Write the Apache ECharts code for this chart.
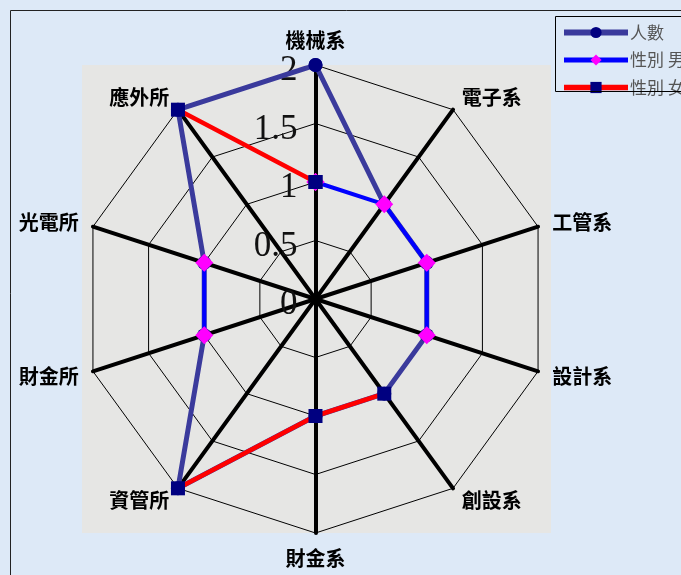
<!DOCTYPE html>
<html><head><meta charset="utf-8">
<script src="https://cdn.jsdelivr.net/npm/echarts@6/dist/echarts.min.js"></script>
<style>html,body{margin:0;padding:0;background:#dde9f7;overflow:hidden}#c{width:681px;height:575px}</style>
</head><body><div id="c"></div>
<script>
// ---- data ----
const categories = ['機械系','電子系','工管系','設計系','創設系','財金系','資管所','財金所','光電所','應外所'];
const headcount = [2,1,1,1,1,1,2,1,1,2];          // 人數
const male      = [1,1,1,1,null,null,null,1,1,null]; // 性別 男
const female    = [1,null,null,null,1,1,2,null,null,2]; // 性別 女
const seriesNames = ['人數','性別 男','性別 女'];
const radiusTicks = [0,0.5,1,1.5,2];

const rMax = radiusTicks[radiusTicks.length-1];
const rStep = radiusTicks[1]-radiusTicks[0];
const CENTER = [315.5, 299];
const RADIUS = 234;

// radar (grid only) lays indicators counter-clockwise, so list them reversed
const indicatorOrder = [categories[0]].concat(categories.slice(1).reverse());

function toPolar(vals){
  const pts = vals.map((v,i)=>[v==null?'-':v, i]);
  pts.push([vals[0]==null?'-':vals[0], vals.length]); // close the loop
  return pts;
}

const chart = echarts.init(document.getElementById('c'), null, {renderer:'canvas'});
const labelFont = "'Noto Sans CJK TC','Noto Sans CJK SC',sans-serif";

const styles = [
  {line:'#3a3a9c', lw:5, sym:'circle', size:14, color:'#000080'},
  {line:'#0000ff', lw:4, sym:'diamond', size:18, color:'#ff00ff'},
  {line:'#ff0000', lw:4.5, sym:'rect', size:14, color:'#000080'}
];

chart.setOption({
  backgroundColor: '#dde9f7',
  animation: false,
  graphic: [
    {type:'rect', z:-10, shape:{x:82, y:65, width:469, height:468}, style:{fill:'#e6e6e4'}},
    {type:'rect', z:100, shape:{x:10.5, y:10.5, width:720, height:620}, style:{fill:'none', stroke:'#222', lineWidth:1}},
    {type:'rect', z:100, shape:{x:555.5, y:16.5, width:200, height:75}, style:{fill:'none', stroke:'#000', lineWidth:1}}
  ],
  legend: {
    data: seriesNames.map((n,i)=>({name:n,
      lineStyle:{width:styles[i].lw+1, color:styles[i].line}})),
    orient: 'vertical',
    left: 555, top: 17,
    padding: [7, 6, 6, 6],
    itemWidth: 64, itemHeight: 14, itemGap: 10.5,
    textStyle: {color:'#555', fontSize:17, fontFamily: labelFont, padding:[0,0,0,-3]}
  },
  radar: {
    center: CENTER,
    radius: RADIUS,
    startAngle: 90,
    shape: 'polygon',
    splitNumber: radiusTicks.length-1,
    indicator: indicatorOrder.map(n=>({name:n, min:0, max:rMax})),
    axisName: {color:'#000', fontSize:20, fontWeight:'bold', fontFamily: labelFont},
    nameGap: 15,
    axisLine: {lineStyle:{color:'#000', width:4}},
    splitLine: {lineStyle:{color:'#000', width:1}},
    splitArea: {show:false},
    axisTick: {show:false},
    axisLabel: {show:false}
  },
  polar: {center: CENTER, radius: RADIUS},
  angleAxis: {type:'value', min:0, max:categories.length, startAngle:90, clockwise:true, show:false},
  radiusAxis: {
    type:'value', min:0, max:rMax, interval:rStep,
    axisLine:{show:false}, axisTick:{show:false}, splitLine:{show:false},
    axisLabel:{show:true, margin:18,
      formatter: v => '{v|' + v + '}',
      rich: {v:{color:'#111', fontSize:35, fontFamily:"'Liberation Serif','DejaVu Serif',serif", padding:[12,0,0,0]}}}
  },
  series: seriesNames.map((n,i)=>({
    name:n, type:'line', coordinateSystem:'polar',
    data: toPolar([headcount, male, female][i]),
    lineStyle:{color:styles[i].line, width:styles[i].lw},
    itemStyle:{color:styles[i].color},
    symbol:styles[i].sym, symbolSize:styles[i].size, z:3+i
  }))
});
</script></body></html>
